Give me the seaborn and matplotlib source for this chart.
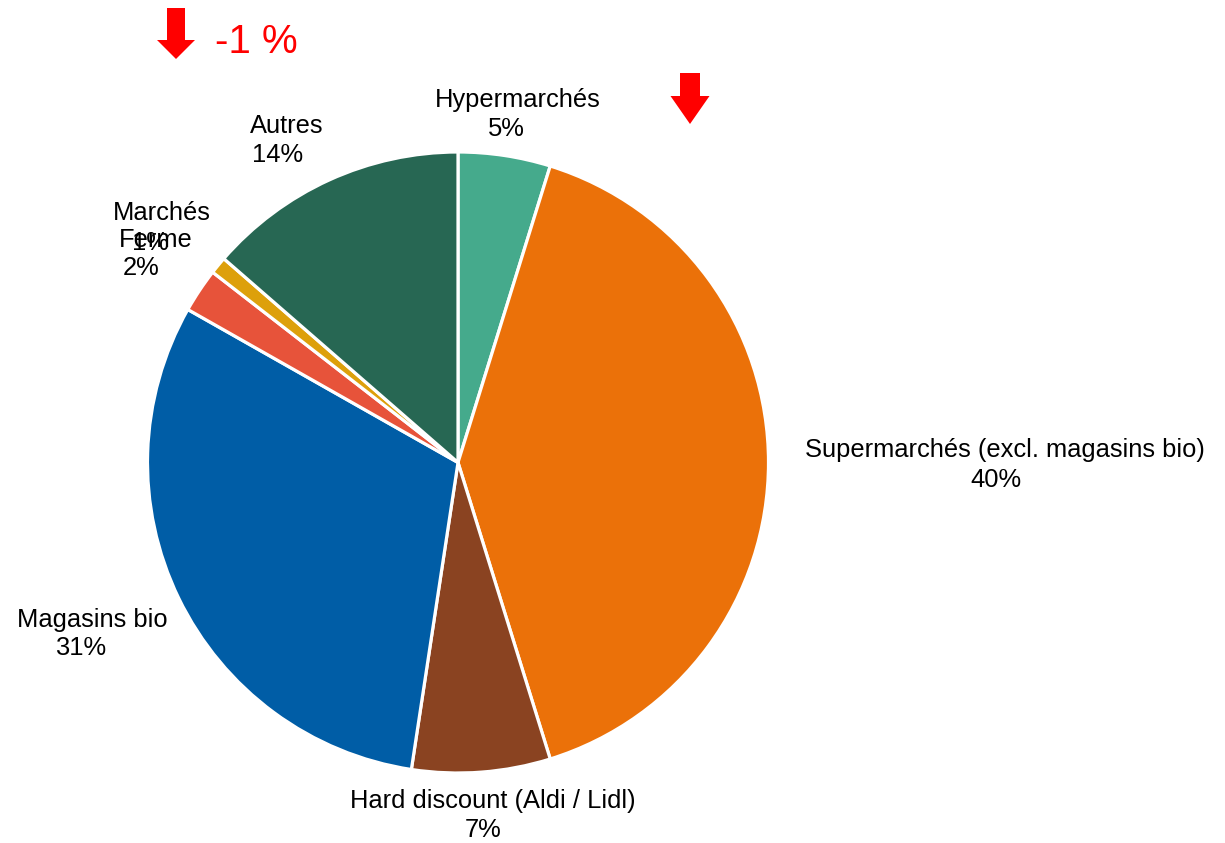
import matplotlib
matplotlib.use("Agg")
import matplotlib.pyplot as plt
from matplotlib.patches import FancyArrow
import seaborn as sns

# ---- data ----
categories = ["Hypermarchés", "Supermarchés (excl. magasins bio)", "Hard discount (Aldi / Lidl)",
              "Magasins bio", "Ferme", "Marchés", "Autres"]
shares = [4.8, 40.4, 7.2, 30.8, 2.3, 0.9, 13.6]
colors = ["#45AA8C", "#EB7109", "#8A4321", "#005DA6", "#E7533A", "#DDA00B", "#276753"]
change_text = "-1 %"

# ---- layout (pixel positions of the label lines: name line, percent line) ----
W, H = 1225, 843
label_pos = [
    ((435, 107), (488, 136)),
    ((805, 457), (970, 487)),
    ((350, 808), (465, 837)),
    ((17, 627), (55, 655)),
    ((119, 247), (123, 275)),
    ((113, 220), (132, 250)),
    ((250, 133), (252, 162)),
]

sns.set_theme(style="white")
plt.rcParams["font.family"] = ["Liberation Sans", "DejaVu Sans"]

fig = plt.figure(figsize=(W / 100, H / 100), dpi=100)
fig.patch.set_facecolor("white")

cx, cy, r = 458, 462.5, 310.5
ax = fig.add_axes([(cx - r) / W, (H - cy - r) / H, 2 * r / W, 2 * r / H])
palette = sns.color_palette(colors)
ax.pie(shares, colors=palette, startangle=90, counterclock=False,
       wedgeprops=dict(edgecolor="white", linewidth=2.3))
ax.set_xlim(-1, 1)
ax.set_ylim(-1, 1)
ax.set_aspect("equal")
ax.axis("off")

def px(x, y):
    return x / W, 1 - y / H

for name, val, (npos, ppos) in zip(categories, shares, label_pos):
    fig.text(*px(*npos), name, ha="left", va="baseline", fontsize=18.4, color="black")
    fig.text(*px(*ppos), f"{round(val):d}%", ha="left", va="baseline", fontsize=18.4, color="black")

# red arrows (inches from bottom-left, dpi=100)
for x, top, tip, w, hw, hl in [(176, 8, 59, 18, 38, 19), (690, 73, 124, 20, 39, 28)]:
    arr = FancyArrow(x / 100, (H - top) / 100, 0, -(tip - top) / 100, width=w / 100,
                     head_width=hw / 100, head_length=hl / 100, length_includes_head=True,
                     color="#FF0000", transform=fig.dpi_scale_trans, linewidth=0)
    fig.patches.append(arr)

fig.text(*px(215, 53), change_text, ha="left", va="baseline", fontsize=29, color="#FF0000")

fig.savefig("out.png", dpi=100, facecolor="white")
